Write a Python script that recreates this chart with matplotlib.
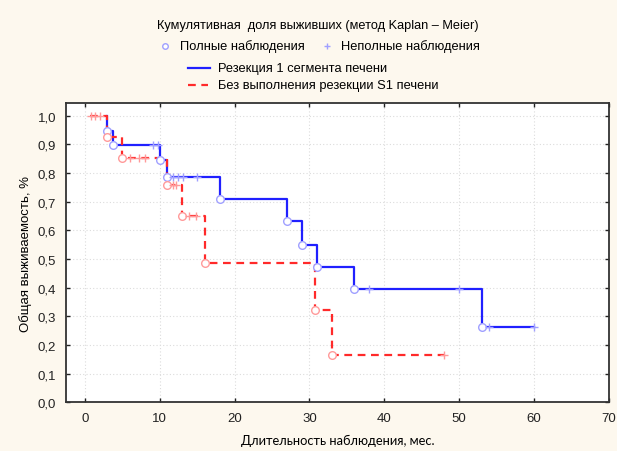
import numpy as np
import matplotlib.pyplot as plt
from matplotlib.lines import Line2D

plt.rcParams['font.family'] = ['Liberation Sans', 'DejaVu Sans']

# Резекция 1 сегмента печени
blue_start = 3.0
blue_events = [3, 3.8, 10, 11, 18, 27, 29, 31, 36, 53]
blue_surv = [0.948, 0.897, 0.847, 0.787, 0.71, 0.632, 0.549, 0.473, 0.395, 0.261]
blue_end = 60
blue_cens_t = [9.1, 9.8, 11.8, 12.4, 13.1, 15, 38, 50, 54, 60]
blue_cens_s = [0.897, 0.897, 0.787, 0.787, 0.787, 0.787, 0.395, 0.395, 0.261, 0.261]

# Без выполнения резекции S1 печени
red_start = 0.7
red_events = [3, 5, 11, 13, 16, 30.8, 33]
red_surv = [0.927, 0.852, 0.757, 0.651, 0.486, 0.323, 0.164]
red_end = 48
red_cens_t = [0.9, 1.4, 2.0, 6, 7.3, 8.0, 11.8, 12.2, 13.9, 14.9, 48]
red_cens_s = [1.0, 1.0, 1.0, 0.852, 0.852, 0.852, 0.757, 0.757, 0.651, 0.651, 0.164]

xticks = [0, 10, 20, 30, 40, 50, 60, 70]
yticks = [0.0, 0.1, 0.2, 0.3, 0.4, 0.5, 0.6, 0.7, 0.8, 0.9, 1.0]

bg = '#fdf8ee'
c_blue = '#2020ff'
c_red = '#ff2a2a'
c_blue_m = '#a0a0ff'
c_red_m = '#ff9a9a'

fig = plt.figure(figsize=(6.17, 4.52), dpi=100, facecolor=bg)
ax = fig.add_axes([0.107, 0.108, 0.880, 0.662])

# ступенчатые кривые
def step_xy(start, events, surv, end):
    t = [start] + list(events) + [end]
    s = [1.0] + list(surv) + [surv[-1]]
    return t, s

bt, bs = step_xy(blue_start, blue_events, blue_surv, blue_end)
rt, rs = step_xy(red_start, red_events, red_surv, red_end)

ax.step(bt, bs, where='post', color=c_blue, lw=1.6, zorder=3)
ax.step(rt, rs, where='post', color=c_red, lw=1.6, dashes=(3.5, 2.5), zorder=4)

# полные наблюдения (кружки) и неполные (крестики)
ax.plot(blue_events, blue_surv, 'o', ms=5.5, mfc='white', mec=c_blue_m, mew=1, zorder=5)
ax.plot(red_events, red_surv, 'o', ms=5.5, mfc='white', mec=c_red_m, mew=1, zorder=5)
ax.plot(blue_cens_t, blue_cens_s, '+', ms=6, color=c_blue_m, mew=1, zorder=5)
ax.plot(red_cens_t, red_cens_s, '+', ms=6, color=c_red_m, mew=1, zorder=5)

ax.set_xlim(-2.5, 70)
ax.set_ylim(0, 1.045)
ax.set_xticks(xticks)
ax.set_yticks(yticks)
ax.set_yticklabels([f'{v:.1f}'.replace('.', ',') for v in yticks])
ax.tick_params(direction='in', length=3, width=1.0, top=True, right=True,
               labelsize=9.5, pad=7, colors='#222222')
ax.grid(True, color='#dcdcdc', ls=(0, (1, 2)), lw=0.8)
for sp in ax.spines.values():
    sp.set_linewidth(1.3)
    sp.set_color('#333333')

ax.set_xlabel('Длительность наблюдения, мес.', fontsize=9.3,
              family=['Lato', 'DejaVu Sans'], labelpad=7)
ax.set_ylabel('Общая выживаемость, %', fontsize=9.5, labelpad=4)

# заголовок и легенда
fig.text(0.515, 0.942, 'Кумулятивная  доля выживших (метод Kaplan – Meier)',
         ha='center', va='center', fontsize=9.2)
fig.add_artist(Line2D([165 / 617], [1 - 47 / 452], marker='o', ms=4, mfc='white',
                      mec=c_blue_m, mew=1, transform=fig.transFigure))
fig.text(180 / 617, 1 - 47 / 452, 'Полные наблюдения', va='center', fontsize=9.3)
fig.add_artist(Line2D([327 / 617], [1 - 47 / 452], marker='+', ms=5,
                      color=c_blue_m, mew=1, transform=fig.transFigure))
fig.text(341 / 617, 1 - 47 / 452, 'Неполные наблюдения', va='center', fontsize=9.3)
fig.add_artist(Line2D([188 / 617, 210 / 617], [1 - 69 / 452] * 2, color=c_blue, lw=1.6,
                      transform=fig.transFigure))
fig.text(218 / 617, 1 - 69 / 452, 'Резекция 1 сегмента печени', va='center', fontsize=9.3)
fig.add_artist(Line2D([188 / 617, 208 / 617], [1 - 86 / 452] * 2, color=c_red, lw=1.6,
                      dashes=(3.5, 2.5), transform=fig.transFigure))
fig.text(218 / 617, 1 - 86 / 452, 'Без выполнения резекции S1 печени', va='center', fontsize=9.3)

fig.savefig('out.png', dpi=100, facecolor=bg)
